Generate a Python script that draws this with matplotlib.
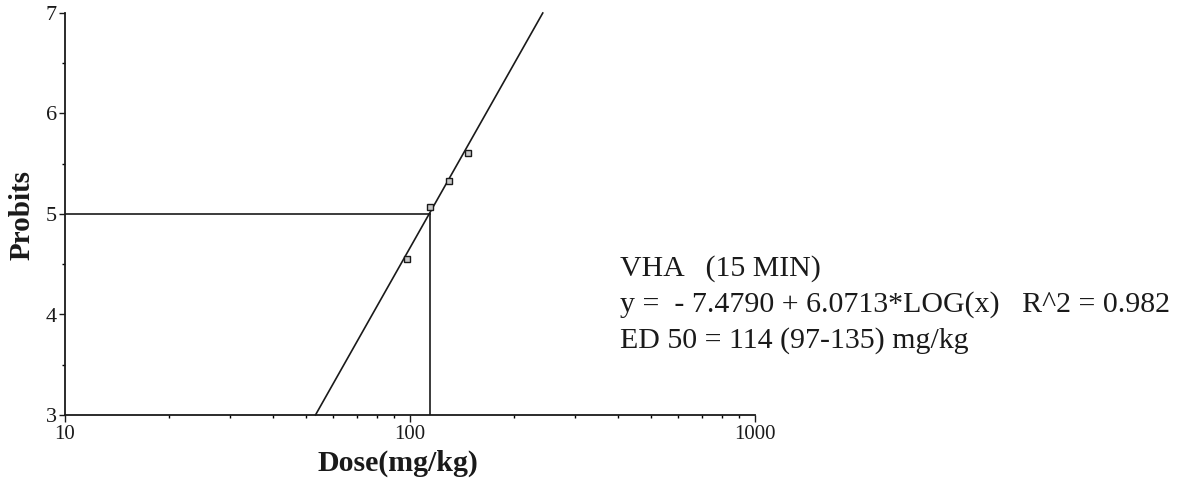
import numpy as np
import matplotlib
matplotlib.use("Agg")
import matplotlib.pyplot as plt
from matplotlib.ticker import LogLocator, FixedLocator, NullFormatter

# Data
doses = [98, 114, 130, 147]
probits = [4.55, 5.07, 5.33, 5.61]
intercept = -7.4790
slope = 6.0713
ed50 = 114
x_ticks = [10, 100, 1000]
x_tick_labels = ["10", "100", "1000"]
y_ticks = [3, 4, 5, 6, 7]
annot_lines = ["VHA   (15 MIN)",
               "y =  - 7.4790 + 6.0713*LOG(x)   R^2 = 0.982",
               "ED 50 = 114 (97-135) mg/kg"]

plt.rcParams['font.family'] = ['Liberation Serif', 'DejaVu Serif']

W, H = 1183, 486
fig = plt.figure(figsize=(W / 100, H / 100), dpi=100)
ax = fig.add_axes([65 / W, 1 - 415 / H, (755 - 65) / W, (415 - 13) / H])

ax.set_xscale('log')
ax.set_xlim(10, 1000)
ax.set_ylim(3, 7)

col = '#1a1a1a'
# Regression line across the plotting range
y_lo, y_hi = 3, 7
x_lo = 10 ** ((y_lo - intercept) / slope)
x_hi = 10 ** ((y_hi - intercept) / slope)
xs = np.array([x_lo, x_hi])
ax.plot(xs, intercept + slope * np.log10(xs), color=col, lw=1.2, clip_on=False)

# ED50 guide lines
ax.plot([10, ed50], [5, 5], color=col, lw=1.2)
ax.plot([ed50, ed50], [3, 5], color=col, lw=1.2)

# Points
ax.plot(doses, probits, 's', ms=5, mfc='#c8c8c8', mec=col, mew=1.0)

for s in ['top', 'right']:
    ax.spines[s].set_visible(False)
for s in ['left', 'bottom']:
    ax.spines[s].set_color(col)
    ax.spines[s].set_linewidth(1.3)

ax.xaxis.set_major_locator(FixedLocator(x_ticks))
ax.set_xticklabels(x_tick_labels)
ax.xaxis.set_minor_locator(LogLocator(base=10, subs=np.arange(2, 10)))
ax.xaxis.set_minor_formatter(NullFormatter())
ax.set_yticks(y_ticks)
ax.yaxis.set_minor_locator(FixedLocator([3.5, 4.5, 5.5, 6.5]))

ax.tick_params(axis='x', which='major', length=5, width=1.0, labelsize=15, pad=2, colors=col)
ax.tick_params(axis='x', which='minor', length=2.5, width=1.0)
ax.tick_params(axis='y', which='major', length=4, width=1.0, labelsize=16, pad=2, colors=col)
ax.tick_params(axis='y', which='minor', length=2, width=1.0)

ax.set_xlabel('Dose(mg/kg)', fontsize=21.5, fontweight='bold', color=col)
ax.xaxis.set_label_coords((398 - 65) / (755 - 65), -(463 - 415) / (415 - 13))
ax.xaxis.label.set_va('center')
ax.set_ylabel('Probits', fontsize=21, fontweight='bold', color=col)
ax.yaxis.set_label_coords(-(65 - 22) / (755 - 65), (415 - 215) / (415 - 13))
ax.yaxis.label.set_va('center')

for i, (t, yc) in enumerate(zip(annot_lines, [269, 305, 341])):
    fig.text(620 / W, 1 - yc / H, t, fontsize=21.5, va='center', ha='left', color=col)

fig.savefig('out.png', dpi=100)
